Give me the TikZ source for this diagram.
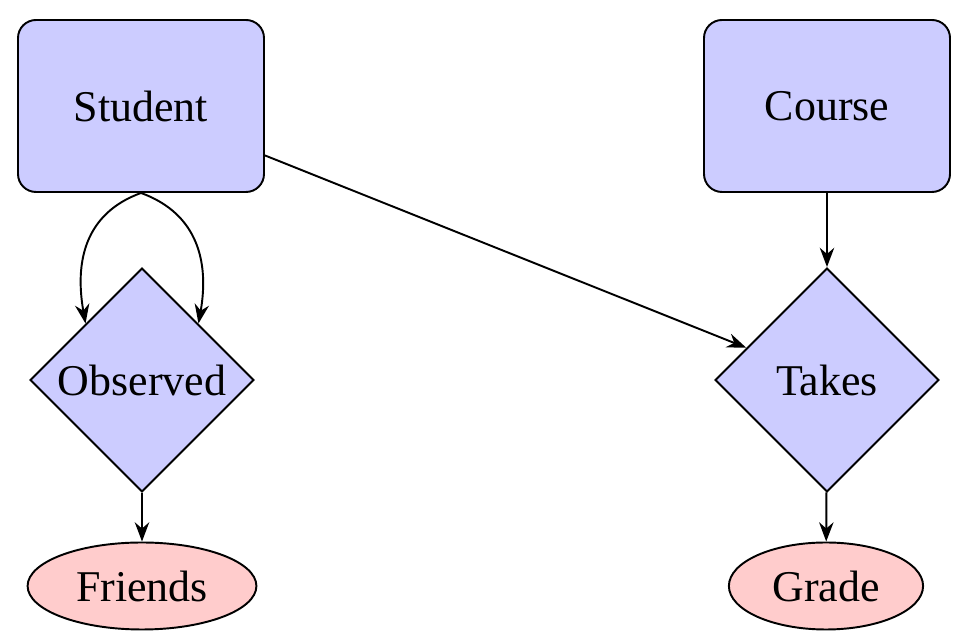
\documentclass[tikz,border=0pt]{standalone}
\usepackage{fontspec}
\setmainfont{Liberation Serif}
\usetikzlibrary{shapes.geometric, arrows.meta}
\begin{document}
\begin{tikzpicture}[x={(0.1mm, 0mm)}, y={(0mm, -0.1mm)}, font=\rmfamily\fontsize{12.5}{15}\selectfont, >=Stealth, line width=0.55pt]
  \tikzset{entity/.style={draw, rectangle, rounded corners=1.8mm, fill=blue!20, minimum width=24.6mm, minimum height=17.2mm}}
  \tikzset{relation/.style={draw, diamond, aspect=1, fill=blue!20, minimum size=22.4mm, inner sep=0pt}}
  \tikzset{attribute/.style={draw, ellipse, fill=red!20, minimum height=8.7mm, inner sep=1.5mm}}

\useasboundingbox (0, 0) rectangle (960, 644);

\node[entity] (student) at (141, 106) {Student};
\node[entity] (course) at (827, 106) {Course};

\node[relation] (observed) at (142, 380) {Observed};
\node[relation] (takes) at (827, 380) {Takes};

\node[attribute] (friends) at (142, 586) {Friends};
\node[attribute] (grade) at (826, 586) {Grade};

\draw[->] (student.south) to[out=200, in=100, looseness=1.1] (observed.north west);
\draw[->] (student.south) to[out=-20, in=80, looseness=1.1] (observed.north east);
\draw[->] (student) -- (takes);
\draw[->] (course) -- (takes);

\draw[->] (observed) -- (friends);
\draw[->] (takes) -- (grade);

\end{tikzpicture}
\end{document}
